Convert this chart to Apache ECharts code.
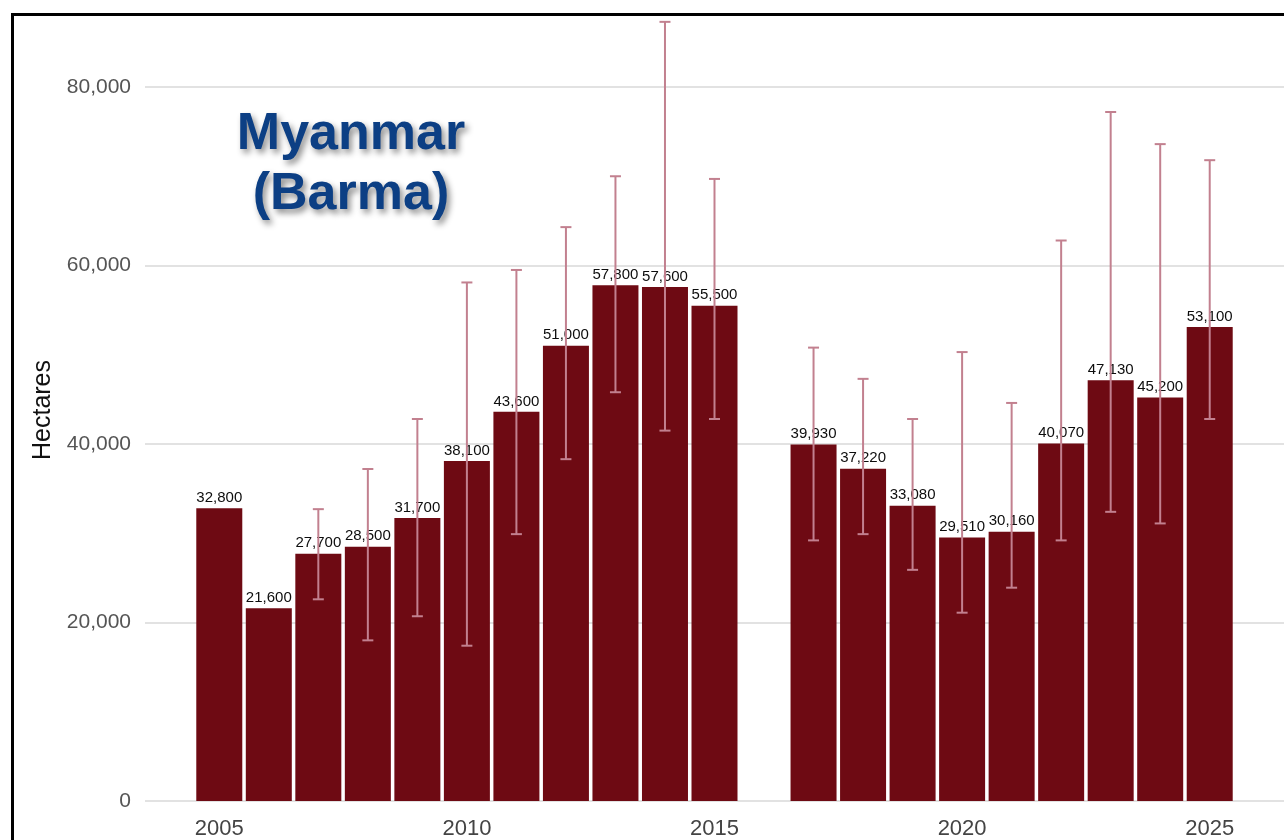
<!DOCTYPE html>
<html>
<head>
<meta charset="utf-8">
<script src="https://cdn.jsdelivr.net/npm/echarts@6/dist/echarts.min.js"></script>
<style>
  html, body { margin: 0; padding: 0; background: #ffffff; }
  #chart { width: 1284px; height: 840px; }
</style>
</head>
<body>
<div id="chart"></div>
<script>
// ---- Data ----
const years   = [2005, 2006, 2007, 2008, 2009, 2010, 2011, 2012, 2013, 2014, 2015,
                 2017, 2018, 2019, 2020, 2021, 2022, 2023, 2024, 2025];
const values  = [32800, 21600, 27700, 28500, 31700, 38100, 43600, 51000, 57800, 57600, 55500,
                 39930, 37220, 33080, 29510, 30160, 40070, 47130, 45200, 53100];
const errLow  = [null, null, 22600, 18000, 20700, 17400, 29900, 38300, 45800, 41500, 42800,
                 29200, 29900, 25900, 21100, 23900, 29200, 32400, 31100, 42800];
const errHigh = [null, null, 32700, 37200, 42800, 58100, 59500, 64300, 70000, 87300, 69700,
                 50800, 47300, 42800, 50300, 44600, 62800, 77200, 73600, 71800];
const xTickLabels = [2005, 2010, 2015, 2020, 2025];
const yTicks = [0, 20000, 40000, 60000, 80000];
const titleLines = ['Myanmar', '(Barma)'];
const yAxisTitle = 'Hectares';

// ---- Build series data ----
const barData = years.map((y, i) => [y, values[i]]);
const errData = [];
years.forEach((y, i) => {
  if (errLow[i] != null && errHigh[i] != null) errData.push([y, errLow[i], errHigh[i]]);
});

const fmt = v => Number(v).toLocaleString('en-US');
const FONT = '"Liberation Sans", Arial, Helvetica, sans-serif';

const chart = echarts.init(document.getElementById('chart'), null, { renderer: 'canvas' });

chart.setOption({
  animation: false,
  backgroundColor: '#ffffff',
  grid: { left: 145, right: 0, top: 87, bottom: 39, containLabel: false },
  xAxis: {
    type: 'value',
    min: 2003.5,
    max: 2026.5,
    axisLine: { show: false },
    axisTick: { show: false },
    splitLine: { show: false },
    axisLabel: {
      customValues: xTickLabels,
      formatter: v => String(v),
      fontFamily: FONT,
      fontSize: 22,
      color: '#444444',
      margin: 17
    }
  },
  yAxis: {
    type: 'value',
    min: yTicks[0],
    max: yTicks[yTicks.length - 1],
    interval: 20000,
    axisLine: { show: false },
    axisTick: { show: false },
    splitLine: { show: true, lineStyle: { color: '#e2e2e2', width: 2 } },
    axisLabel: {
      formatter: v => fmt(v),
      fontFamily: FONT,
      fontSize: 21,
      color: '#555555',
      margin: 14
    }
  },
  series: [
    {
      type: 'bar',
      data: barData,
      barWidth: 46,
      z: 2,
      itemStyle: { color: '#6e0a13' },
      label: {
        show: true,
        position: 'top',
        distance: 3,
        formatter: p => fmt(p.value[1]),
        fontFamily: FONT,
        fontSize: 15,
        color: '#0d0d0d'
      }
    },
    {
      type: 'custom',
      z: 5,
      clip: false,
      data: errData,
      renderItem: function (params, api) {
        const x = api.value(0);
        const lo = api.coord([x, api.value(1)]);
        const hi = api.coord([x, api.value(2)]);
        const hw = 5.5;
        const style = { stroke: '#c2808f', lineWidth: 2 };
        return {
          type: 'group',
          children: [
            { type: 'line', shape: { x1: lo[0], y1: lo[1], x2: hi[0], y2: hi[1] }, style: style },
            { type: 'line', shape: { x1: lo[0] - hw, y1: lo[1], x2: lo[0] + hw, y2: lo[1] }, style: style },
            { type: 'line', shape: { x1: hi[0] - hw, y1: hi[1], x2: hi[0] + hw, y2: hi[1] }, style: style }
          ]
        };
      }
    }
  ],
  graphic: [
    {
      type: 'rect',
      left: 10, top: 12,
      shape: { x: 0, y: 0, width: 1400, height: 900 },
      style: { fill: 'none', stroke: '#000000', lineWidth: 3 },
      silent: true,
      z: 100
    },
    {
      type: 'text',
      x: 351,
      y: 105,
      style: {
        text: titleLines.join('\n'),
        fontFamily: FONT,
        fontWeight: 'bold',
        fontSize: 52,
        lineHeight: 60,
        fill: '#0c3f84',
        align: 'center',
        verticalAlign: 'top',
        textShadowColor: 'rgba(0,0,0,0.45)',
        textShadowBlur: 6,
        textShadowOffsetX: 3,
        textShadowOffsetY: 4
      },
      z: 50
    },
    {
      type: 'text',
      x: 43,
      y: 410,
      rotation: Math.PI / 2,
      style: {
        text: yAxisTitle,
        fontFamily: FONT,
        fontSize: 25,
        fill: '#111111',
        align: 'center',
        verticalAlign: 'middle'
      },
      z: 50
    }
  ]
});
</script>
</body>
</html>
